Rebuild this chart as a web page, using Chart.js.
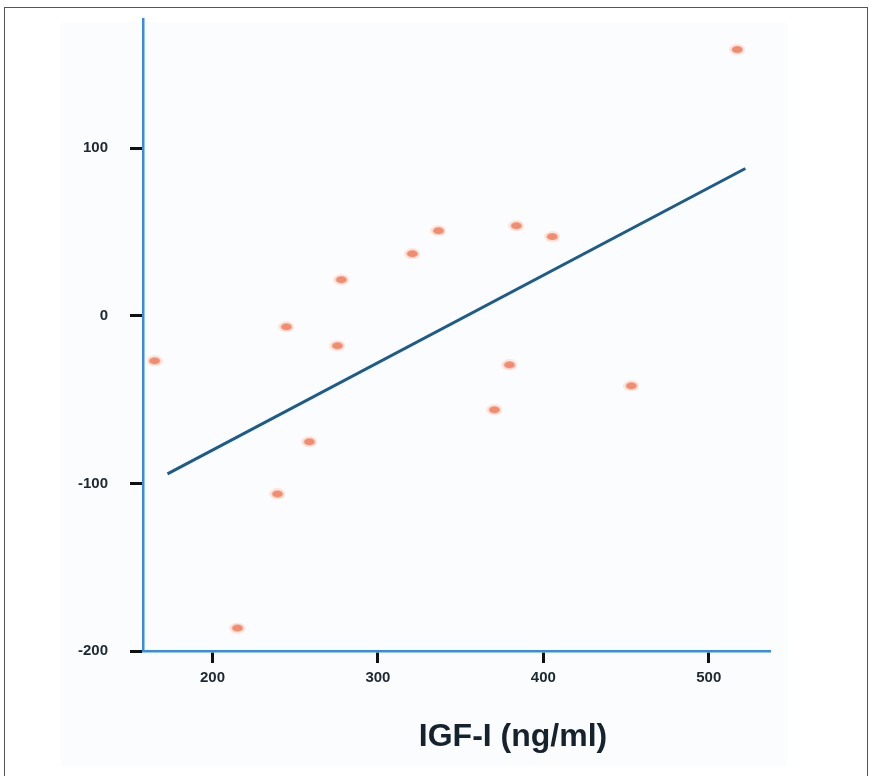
<!DOCTYPE html>
<html>
<head>
<meta charset="utf-8">
<script src="https://cdn.jsdelivr.net/npm/chart.js@4/dist/chart.umd.min.js"></script>
<style>
  html, body { margin: 0; padding: 0; background: #fff; }
  #wrap { position: relative; width: 874px; height: 776px; }
  #frame { position: absolute; left: 4px; top: 7px; width: 864px; height: 780px; border: 1px solid #555; box-sizing: border-box; }
  #paper { position: absolute; left: 61px; top: 22px; width: 726px; height: 744px; background: #fbfcfe; }
  canvas { position: absolute; left: 0; top: 0; }
</style>
</head>
<body>
<div id="wrap">
  <div id="frame"></div>
  <div id="paper"></div>
  <canvas id="chart" width="874" height="776"></canvas>
</div>
<script>
// IGF-I (ng/ml) vs y values
const igf = [165.0, 215.1, 239.3, 244.7, 258.6, 275.5, 277.9, 320.8, 336.6, 370.4, 379.5, 383.7, 405.4, 453.2, 517.2];
const yVals = [-26.9, -186.3, -106.3, -6.6, -75.2, -17.9, 21.5, 37.0, 50.7, -56.1, -29.3, 53.7, 47.2, -41.8, 158.8];

// regression line ends
const fitX = [172.8, 522.1];
const fitY = [-94.3, 87.8];

const xTicks = [200, 300, 400, 500];
const yTicks = [-200, -100, 0, 100];
const xTitle = 'IGF-I (ng/ml)';

// ellipse marker
const dot = document.createElement('canvas');
dot.width = 16; dot.height = 11;
const dctx = dot.getContext('2d');
dctx.fillStyle = 'rgba(246,175,150,0.3)';
dctx.beginPath(); dctx.ellipse(8, 5.5, 8, 5.5, 0, 0, Math.PI * 2); dctx.fill();
dctx.fillStyle = 'rgba(240,130,98,0.9)';
dctx.beginPath(); dctx.ellipse(8, 5.5, 5.5, 3.6, 0, 0, Math.PI * 2); dctx.fill();

const tickFont = { family: 'Liberation Sans, Arial, sans-serif', size: 15, weight: 'bold' };

const titlePlugin = {
  id: 'xTitle',
  afterDraw(chart) {
    const c = chart.ctx;
    const a = chart.chartArea;
    c.save();
    c.font = 'bold 32px "Liberation Sans", Arial, sans-serif';
    c.fillStyle = '#16232e';
    c.textAlign = 'center';
    c.textBaseline = 'alphabetic';
    c.fillText(xTitle, a.left + 370, a.bottom + 95);
    c.restore();
  }
};

new Chart(document.getElementById('chart'), {
  type: 'scatter',
  data: {
    datasets: [
      {
        data: igf.map((x, i) => ({ x: x, y: yVals[i] })),
        pointStyle: dot,
        pointRadius: 6,
        order: 1
      },
      {
        type: 'line',
        data: fitX.map((x, i) => ({ x: x, y: fitY[i] })),
        borderColor: '#1d5c88',
        borderWidth: 3,
        pointRadius: 0,
        fill: false,
        order: 2
      }
    ]
  },
  options: {
    responsive: false,
    animation: false,
    layout: { autoPadding: false, padding: { top: 19, right: 104, left: 0, bottom: 0 } },
    plugins: {
      legend: { display: false },
      tooltip: { enabled: false }
    },
    scales: {
      x: {
        type: 'linear',
        min: 158,
        max: 537,
        afterBuildTicks: (s) => { s.ticks = xTicks.map(v => ({ value: v })); },
        afterFit: (s) => { s.height = 125; s.paddingLeft = 0; s.paddingRight = 0; },
        grid: { drawOnChartArea: false, drawTicks: true, tickLength: 12, tickWidth: 3, tickColor: '#111' },
        border: { display: true, color: '#3a8cdc', width: 2.5 },
        ticks: { font: tickFont, color: '#1d2833', padding: 6, maxRotation: 0 }
      },
      y: {
        min: -200,
        max: 177,
        afterBuildTicks: (s) => { s.ticks = yTicks.map(v => ({ value: v })); },
        afterFit: (s) => { s.width = 143; s.paddingTop = 0; s.paddingBottom = 0; },
        grid: { drawOnChartArea: false, drawTicks: true, tickLength: 13, tickWidth: 3, tickColor: '#111' },
        border: { display: true, color: '#3a8cdc', width: 2.5 },
        ticks: { font: tickFont, color: '#1d2833', padding: 22 }
      }
    }
  },
  plugins: [titlePlugin]
});
</script>
</body>
</html>
